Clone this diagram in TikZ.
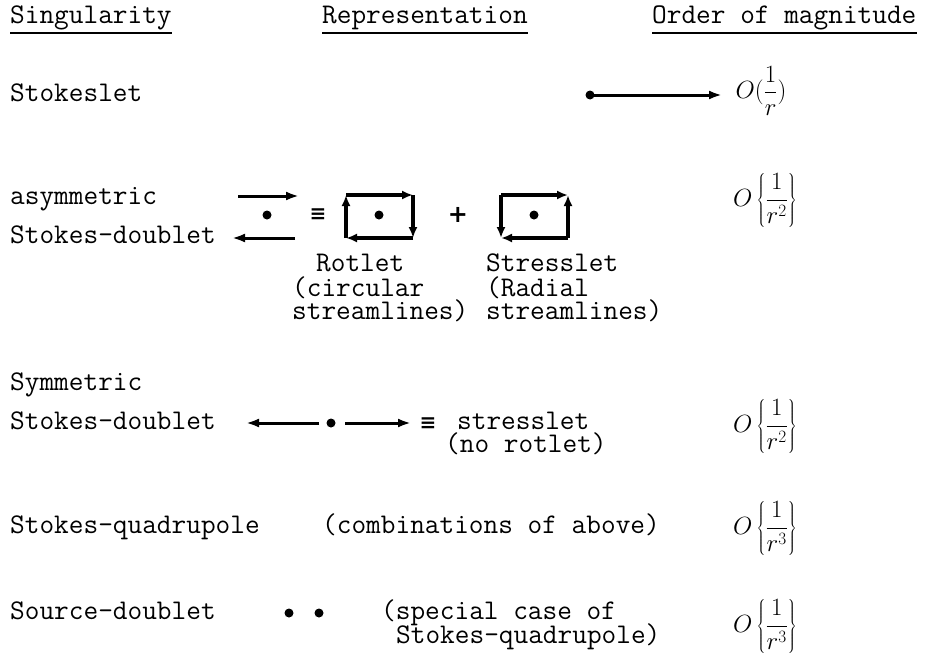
\documentclass[tikz,border=0pt]{standalone}
\usepackage{fontspec}
\newfontfamily\symfont{DejaVu Sans}
\usetikzlibrary{arrows.meta}
\begin{document}
\begin{tikzpicture}[x=1pt,y=-1pt,
  txt/.style={anchor=west,inner sep=0pt,text height=15pt,text depth=5pt,font=\fontsize{28.5}{32}\selectfont\ttfamily},
  ord/.style={inner sep=0pt,font=\fontsize{25}{30}\selectfont},
  arr/.style={line width=3pt,-{Latex[length=13pt,width=9pt]}},
  edge/.style={line width=3.2pt,-{Latex[length=11pt,width=9pt]}},
  dotc/.style={circle,fill,inner sep=0pt,minimum size=9pt},
  eqv/.style={inner sep=0pt,font=\fontsize{20}{24}\selectfont\symfont\bfseries},
  ul/.style={line width=1.8pt}]
\fill[white] (0,0) rectangle (944,659);
% headers
\node[txt] (h1) at (10,18) {Singularity};
\node[txt] (h2) at (322,18) {Representation};
\node[txt] (h3) at (652,18) {Order of magnitude};
\foreach \h in {h1,h2,h3}{\draw[ul] ([yshift=-15pt]\h.west) -- ([yshift=-15pt]\h.east);}
% Stokeslet
\node[txt] (s1) at (10,96) {Stokeslet};
\node[dotc] (d1) at (590,95) {};
\coordinate (e1) at (722,95);
\draw[arr] (d1.center) -- (e1);
\node[ord] (o1) at (761,91) {$\displaystyle O\Bigl(\frac{1}{r}\Bigr)$};
% asymmetric Stokes-doublet
\node[txt] (a1) at (10,199) {asymmetric};
\node[txt] (a2) at (10,238) {Stokes-doublet};
\coordinate (a3s) at (238,196); \coordinate (a3e) at (299,196);
\draw[arr] (a3s) -- (a3e);
\node[dotc] (ad) at (267,215) {};
\coordinate (a4s) at (295,238); \coordinate (a4e) at (232,238);
\draw[arr] (a4s) -- (a4e);
\node[eqv] (eq1) at (318,215) {≡};
% Rotlet box (clockwise)
\coordinate (r1) at (346,195); \coordinate (r2) at (413,195);
\coordinate (r3) at (413,238); \coordinate (r4) at (346,238);
\draw[edge] (r1) -- (r2);
\draw[edge] (r2) -- (r3);
\draw[edge] (r3) -- (r4);
\draw[edge] (r4) -- (r1);
\node[dotc] (rd) at (379,215) {};
\node[inner sep=0pt,font=\fontsize{24}{28}\selectfont\symfont\bfseries] (plus) at (458,215) {+};
% Stresslet box
\coordinate (t1) at (501,195); \coordinate (t2) at (568,195);
\coordinate (t3) at (568,238); \coordinate (t4) at (501,238);
\draw[edge] (t1) -- (t2);
\draw[edge] (t3) -- (t2);
\draw[edge] (t3) -- (t4);
\draw[edge] (t1) -- (t4);
\node[dotc] (td) at (534,215) {};
\node[txt] (rl1) at (316,266) {Rotlet};
\node[txt] (rl2) at (292,291) {(circular};
\node[txt] (rl3) at (292,314) {streamlines)};
\node[txt] (sl1) at (486,266) {Stresslet};
\node[txt] (sl2) at (486,291) {(Radial};
\node[txt] (sl3) at (486,314) {streamlines)};
\node[ord] (o2) at (765,200) {$\displaystyle O\left\{\frac{1}{r^{2}}\right\}$};
% Symmetric Stokes-doublet
\node[txt] (y1) at (10,385) {Symmetric};
\node[txt] (y2) at (10,424) {Stokes-doublet};
\node[dotc] (yd) at (331,423) {};
\coordinate (y3s) at (319,423); \coordinate (y3e) at (246,423);
\draw[arr] (y3s) -- (y3e);
\coordinate (y4s) at (345,423); \coordinate (y4e) at (411,423);
\draw[arr] (y4s) -- (y4e);
\node[eqv] (eq2) at (428,424) {≡};
\node[txt] (y5) at (457,424) {stresslet};
\node[txt] (y6) at (445,447) {(no rotlet)};
\node[ord] (o3) at (765,426) {$\displaystyle O\left\{\frac{1}{r^{2}}\right\}$};
% Stokes-quadrupole
\node[txt] (q1) at (10,528) {Stokes-quadrupole};
\node[txt] (q2) at (322,528) {(combinations of above)};
\node[ord] (o4) at (765,528) {$\displaystyle O\left\{\frac{1}{r^{3}}\right\}$};
% Source-doublet
\node[txt] (sd1) at (10,614) {Source-doublet};
\node[dotc] (sdd1) at (289,613) {};
\node[dotc] (sdd2) at (319,613) {};
\node[txt] (sd2) at (381,614) {(special case of};
\node[txt] (sd3) at (396,638) {Stokes-quadrupole)};
\node[ord] (o5) at (765,626) {$\displaystyle O\left\{\frac{1}{r^{3}}\right\}$};
\end{tikzpicture}
\end{document}
